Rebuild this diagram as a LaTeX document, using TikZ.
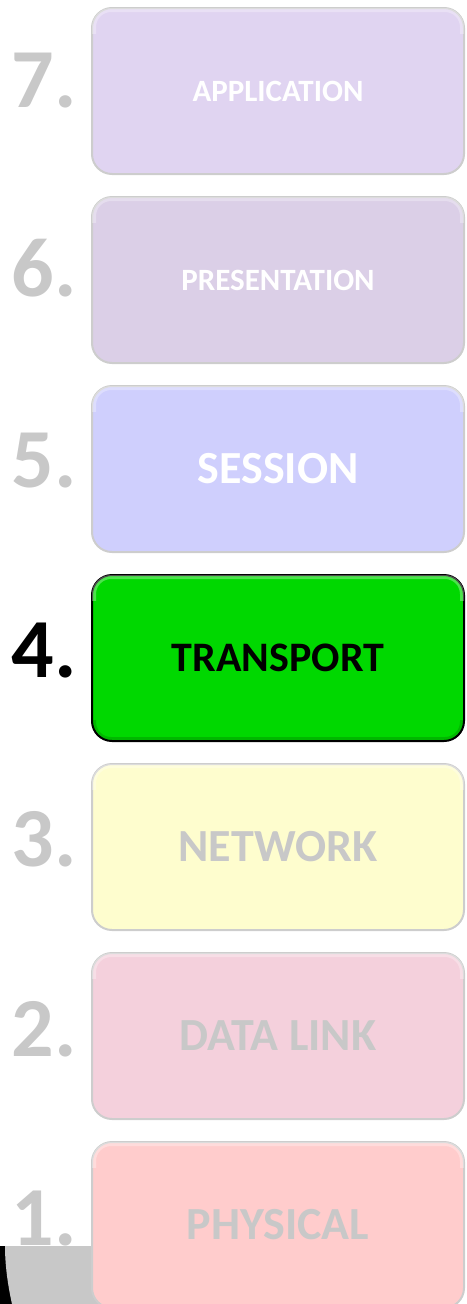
\documentclass[tikz,border=0pt]{standalone}
\usepackage{fontspec}
\setmainfont{Carlito}
\definecolor{dimtext}{RGB}{200,200,200}
\definecolor{rimgray}{RGB}{205,205,205}
\definecolor{appfill}{RGB}{224,212,241}
\definecolor{presfill}{RGB}{219,207,231}
\definecolor{sessfill}{RGB}{207,207,253}
\definecolor{transfill}{RGB}{0,216,0}
\definecolor{netfill}{RGB}{254,253,206}
\definecolor{linkfill}{RGB}{244,208,220}
\definecolor{physfill}{RGB}{255,204,204}
\tikzset{
  layer/.style={draw=rimgray, line width=2pt, rounded corners=20pt,
    minimum width=372pt, minimum height=166pt, inner sep=0pt,
    font=\bfseries},
  layernum/.style={anchor=base east, inner sep=0pt, text=dimtext,
    font=\fontsize{84}{84}\selectfont\bfseries},
  bigname/.style={font=\fontsize{46}{46}\selectfont\bfseries},
  smallname/.style={font=\fontsize{31}{31}\selectfont\bfseries},
  glint/.style={white, opacity=0.3, line width=4pt, rounded corners=17pt},
  dusk/.style={black, opacity=0.15, line width=4pt, rounded corners=17pt}
}
\begin{document}
\begin{tikzpicture}[x=1pt,y=-1pt]
\useasboundingbox (0,0) rectangle (466,1304);
\clip (0,0) rectangle (466,1304);

% edge of a grey panel peeking out at the lower left
\fill[black] (0,1246) rectangle (16,1304);
\fill[dimtext] (5,1246) -- (120,1246) -- (120,1304) -- (12,1304)
  .. controls (8,1286) and (5,1266) .. cycle;

% the seven layers
\node[layer, fill=appfill, text=white, smallname] (l7) at (278,91) {APPLICATION};
\node[layer, fill=presfill, text=white, smallname] (l6) at (278,280) {PRESENTATION};
\node[layer, fill=sessfill, text=white, bigname] (l5) at (278,469) {SESSION};
\node[layer, fill=transfill, draw=black, text=black,
  font=\fontsize{42}{42}\selectfont\bfseries] (l4) at (278,658) {TRANSPORT};
\node[layer, fill=netfill, text=dimtext, bigname] (l3) at (278,847) {NETWORK};
\node[layer, fill=linkfill, text=dimtext, bigname] (l2) at (278,1036) {DATA LINK};
\node[layer, fill=physfill, text=dimtext, bigname] (l1) at (278,1225) {PHYSICAL};

% soft bevel: light rim along the top of every layer
\foreach \n in {l7,l6,l5,l4,l3,l2,l1} {
  \begin{scope}
    \clip ([shift={(-2,-2)}]\n.north west) rectangle ([shift={(2,26)}]\n.north east);
    \draw[glint] ([shift={(3,3)}]\n.north west) rectangle ([shift={(-3,-3)}]\n.south east);
  \end{scope}
}
% darker rim along the bottom of the highlighted layer
\begin{scope}
  \clip ([shift={(-2,-22)}]l4.south west) rectangle ([shift={(2,2)}]l4.south east);
  \draw[dusk] ([shift={(3,3)}]l4.north west) rectangle ([shift={(-3,-3)}]l4.south east);
\end{scope}

% layer numbers
\node[layernum] (n7) at (77,107) {7.};
\node[layernum] (n6) at (77,296) {6.};
\node[layernum] (n5) at (77,487) {5.};
\node[layernum, text=black] (n4) at (77,677) {4.};
\node[layernum] (n3) at (77,866) {3.};
\node[layernum] (n2) at (77,1056) {2.};
\node[layernum] (n1) at (77,1245) {1.};
\end{tikzpicture}
\end{document}
